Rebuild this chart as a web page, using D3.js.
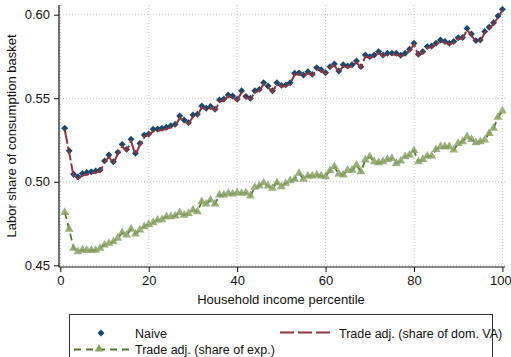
<!DOCTYPE html>
<html>
<head>
<meta charset="utf-8">
<script src="https://cdn.jsdelivr.net/npm/d3@7"></script>
<style>
  html, body { margin: 0; padding: 0; background: #fff; }
  svg { display: block; }
  text { font-family: "Liberation Sans Narrow", "Arial Narrow", "Liberation Sans", Arial, sans-serif; fill: #111; }
</style>
</head>
<body>
<svg id="chart" width="511" height="357"></svg>
<script>
// ---- data ----
const percentiles = d3.range(1, 101);
const naive = [
  0.5320, 0.5186, 0.5045, 0.5030, 0.5050, 0.5055, 0.5060, 0.5065, 0.5070, 0.5125,
  0.5160, 0.5120, 0.5176, 0.5224, 0.5194, 0.5254, 0.5170, 0.5230, 0.5280, 0.5286,
  0.5314, 0.5316, 0.5320, 0.5326, 0.5336, 0.5344, 0.5394, 0.5370, 0.5354, 0.5400,
  0.5404, 0.5454, 0.5440, 0.5450, 0.5434, 0.5490, 0.5495, 0.5520, 0.5513, 0.5494,
  0.5545, 0.5510, 0.5500, 0.5545, 0.5553, 0.5593, 0.5573, 0.5545, 0.5593, 0.5577,
  0.5580, 0.5593, 0.5650, 0.5652, 0.5639, 0.5659, 0.5643, 0.5683, 0.5670, 0.5653,
  0.5689, 0.5705, 0.5663, 0.5700, 0.5693, 0.5700, 0.5723, 0.5689, 0.5759, 0.5749,
  0.5759, 0.5779, 0.5759, 0.5769, 0.5770, 0.5769, 0.5757, 0.5769, 0.5793, 0.5829,
  0.5763, 0.5779, 0.5809, 0.5813, 0.5829, 0.5849, 0.5840, 0.5829, 0.5840, 0.5862,
  0.5864, 0.5918, 0.5884, 0.5845, 0.5849, 0.5900, 0.5925, 0.5952, 0.5992, 0.6032
];
const tradeDomVA = [
  0.5310, 0.5178, 0.5032, 0.5016, 0.5038, 0.5044, 0.5050, 0.5056, 0.5062, 0.5114,
  0.5150, 0.5110, 0.5166, 0.5212, 0.5184, 0.5242, 0.5162, 0.5220, 0.5270, 0.5278,
  0.5302, 0.5306, 0.5310, 0.5316, 0.5326, 0.5334, 0.5382, 0.5362, 0.5346, 0.5390,
  0.5396, 0.5444, 0.5432, 0.5442, 0.5426, 0.5480, 0.5486, 0.5512, 0.5505, 0.5486,
  0.5536, 0.5502, 0.5492, 0.5536, 0.5545, 0.5584, 0.5566, 0.5538, 0.5584, 0.5570,
  0.5572, 0.5586, 0.5642, 0.5644, 0.5632, 0.5651, 0.5636, 0.5675, 0.5662, 0.5646,
  0.5681, 0.5697, 0.5656, 0.5692, 0.5686, 0.5692, 0.5715, 0.5682, 0.5750, 0.5741,
  0.5751, 0.5771, 0.5752, 0.5761, 0.5762, 0.5761, 0.5750, 0.5762, 0.5786, 0.5822,
  0.5756, 0.5772, 0.5801, 0.5806, 0.5822, 0.5842, 0.5833, 0.5822, 0.5833, 0.5855,
  0.5857, 0.5910, 0.5877, 0.5838, 0.5842, 0.5892, 0.5917, 0.5944, 0.5984, 0.6026
];
const tradeExp = [
  0.4817, 0.4716, 0.4602, 0.4582, 0.4592, 0.4590, 0.4590, 0.4590, 0.4602, 0.4622,
  0.4632, 0.4641, 0.4662, 0.4695, 0.4681, 0.4716, 0.4687, 0.4711, 0.4731, 0.4745,
  0.4755, 0.4771, 0.4773, 0.4791, 0.4791, 0.4795, 0.4815, 0.4800, 0.4811, 0.4831,
  0.4821, 0.4881, 0.4867, 0.4891, 0.4867, 0.4921, 0.4921, 0.4931, 0.4927, 0.4935,
  0.4931, 0.4935, 0.4915, 0.4967, 0.4975, 0.4994, 0.4975, 0.4961, 0.4994, 0.4971,
  0.4991, 0.5007, 0.5015, 0.5051, 0.5015, 0.5035, 0.5035, 0.5041, 0.5035, 0.5031,
  0.5067, 0.5091, 0.5047, 0.5041, 0.5070, 0.5069, 0.5100, 0.5060, 0.5130, 0.5150,
  0.5120, 0.5114, 0.5120, 0.5134, 0.5140, 0.5110, 0.5124, 0.5150, 0.5160, 0.5186,
  0.5120, 0.5134, 0.5154, 0.5154, 0.5194, 0.5210, 0.5210, 0.5210, 0.5190, 0.5230,
  0.5240, 0.5270, 0.5254, 0.5234, 0.5240, 0.5250, 0.5290, 0.5320, 0.5386, 0.5424
];
const xTicks = [0, 20, 40, 60, 80, 100];
const yTicks = [0.45, 0.50, 0.55, 0.60];
const seriesNames = ["Naive", "Trade adj. (share of dom. VA)", "Trade adj. (share of exp.)"];
const xTitle = "Household income percentile";
const yTitle = "Labor share of consumption basket";

// ---- drawing ----
const svg = d3.select("#chart");
svg.append("rect").attr("width", 511).attr("height", 357).attr("fill", "#fff");

const x = d3.scaleLinear().domain([0, 100]).range([60.3, 502.4]);
const y = d3.scaleLinear().domain([0.45, 0.60]).range([265.3, 14.7]);

const plotTop = 5, plotBottom = 267, plotLeft = 59, plotRight = 505;
const navy = "#1a476f", maroon = "#90353b", green = "#55752f", greenFill = "#8aa266";
const fontFam = '"Liberation Sans Narrow", "Arial Narrow", "Liberation Sans", sans-serif';

// grid
const grid = svg.append("g");
grid.selectAll("line.h").data(yTicks).join("line")
  .attr("x1", plotLeft + 1).attr("x2", plotRight)
  .attr("y1", d => y(d)).attr("y2", d => y(d))
  .attr("stroke", "#c4c4c4").attr("stroke-width", 1).attr("stroke-dasharray", "1,2");
grid.selectAll("line.v").data(xTicks).join("line")
  .attr("x1", d => x(d)).attr("x2", d => x(d))
  .attr("y1", plotTop).attr("y2", plotBottom - 1)
  .attr("stroke", "#c4c4c4").attr("stroke-width", 1).attr("stroke-dasharray", "1,2");

// axes
const yAxis = d3.axisLeft(y).tickValues(yTicks).tickFormat(d3.format(".2f")).tickSize(5).tickSizeOuter(0);
const gy = svg.append("g").attr("transform", `translate(${plotLeft},0)`).call(yAxis);
gy.select(".domain").remove();
gy.append("line").attr("x1", 0).attr("x2", 0).attr("y1", plotTop).attr("y2", plotBottom).attr("stroke", "#111").attr("stroke-width", 1.2);
gy.selectAll(".tick line").attr("stroke", "#111");
gy.selectAll(".tick text").attr("x", -9).attr("font-size", 13).attr("fill", "#111").style("font-family", fontFam);

const xAxis = d3.axisBottom(x).tickValues(xTicks).tickFormat(d3.format("d")).tickSize(5).tickSizeOuter(0);
const gx = svg.append("g").attr("transform", `translate(0,${plotBottom})`).call(xAxis);
gx.select(".domain").remove();
gx.append("line").attr("x1", plotLeft).attr("x2", plotRight).attr("y1", 0).attr("y2", 0).attr("stroke", "#111").attr("stroke-width", 1.2);
gx.selectAll(".tick line").attr("stroke", "#111");
gx.selectAll(".tick text").attr("y", 9).attr("font-size", 13).attr("fill", "#111").style("font-family", fontFam)
  .attr("dx", d => d === 100 ? -2 : 0);

// titles
svg.append("text").attr("x", 281).attr("y", 304).attr("text-anchor", "middle")
  .attr("font-size", 13).text(xTitle);
svg.append("text").attr("transform", "translate(16,136) rotate(-90)").attr("text-anchor", "middle")
  .attr("font-size", 13).text(yTitle);

// marker shapes
const diamond = d3.symbol().type(d3.symbolSquare).size(24);
const triangle = d3.symbol().type(d3.symbolTriangle).size(34);

const naiveData = percentiles.map((p, i) => [p, naive[i]]);
const domVAData = percentiles.map((p, i) => [p, tradeDomVA[i]]);
const expData = percentiles.map((p, i) => [p, tradeExp[i]]);
const line = d3.line().x(d => x(d[0])).y(d => y(d[1]));

// Naive: markers only
svg.append("g").selectAll("path").data(naiveData).join("path")
  .attr("d", diamond)
  .attr("transform", d => `translate(${x(d[0])},${y(d[1])}) rotate(45)`)
  .attr("fill", navy);

// Trade adj (dom VA): long dashed line
svg.append("path").datum(domVAData).attr("d", line)
  .attr("fill", "none").attr("stroke", maroon).attr("stroke-width", 2)
  .attr("stroke-dasharray", "14,3");

// Trade adj (exp): dashed line with triangles
svg.append("path").datum(expData).attr("d", line)
  .attr("fill", "none").attr("stroke", green).attr("stroke-width", 1.8)
  .attr("stroke-dasharray", "7,4");
svg.append("g").selectAll("path").data(expData).join("path")
  .attr("d", triangle)
  .attr("transform", d => `translate(${x(d[0])},${y(d[1])})`)
  .attr("fill", greenFill).attr("fill-opacity", 0.85);

// legend
const lg = svg.append("g");
lg.append("rect").attr("x", 69.5).attr("y", 314.5).attr("width", 423).attr("height", 60)
  .attr("fill", "#fff").attr("stroke", "#333").attr("stroke-width", 1);
lg.append("path").attr("d", diamond).attr("transform", "translate(101,333) rotate(45)").attr("fill", navy);
lg.append("text").attr("x", 135).attr("y", 337.5).attr("font-size", 12.5).text(seriesNames[0]);
lg.append("line").attr("x1", 280).attr("x2", 331).attr("y1", 332.5).attr("y2", 332.5)
  .attr("stroke", maroon).attr("stroke-width", 2).attr("stroke-dasharray", "14,4");
lg.append("text").attr("x", 339).attr("y", 337.5).attr("font-size", 12.5).text(seriesNames[1]);
lg.append("line").attr("x1", 74).attr("x2", 134).attr("y1", 349.5).attr("y2", 349.5)
  .attr("stroke", green).attr("stroke-width", 1.8).attr("stroke-dasharray", "7,5");
lg.append("path").attr("d", triangle).attr("transform", "translate(99,349)").attr("fill", greenFill);
lg.append("text").attr("x", 135).attr("y", 354).attr("font-size", 12.5).text(seriesNames[2]);
</script>
</body>
</html>
